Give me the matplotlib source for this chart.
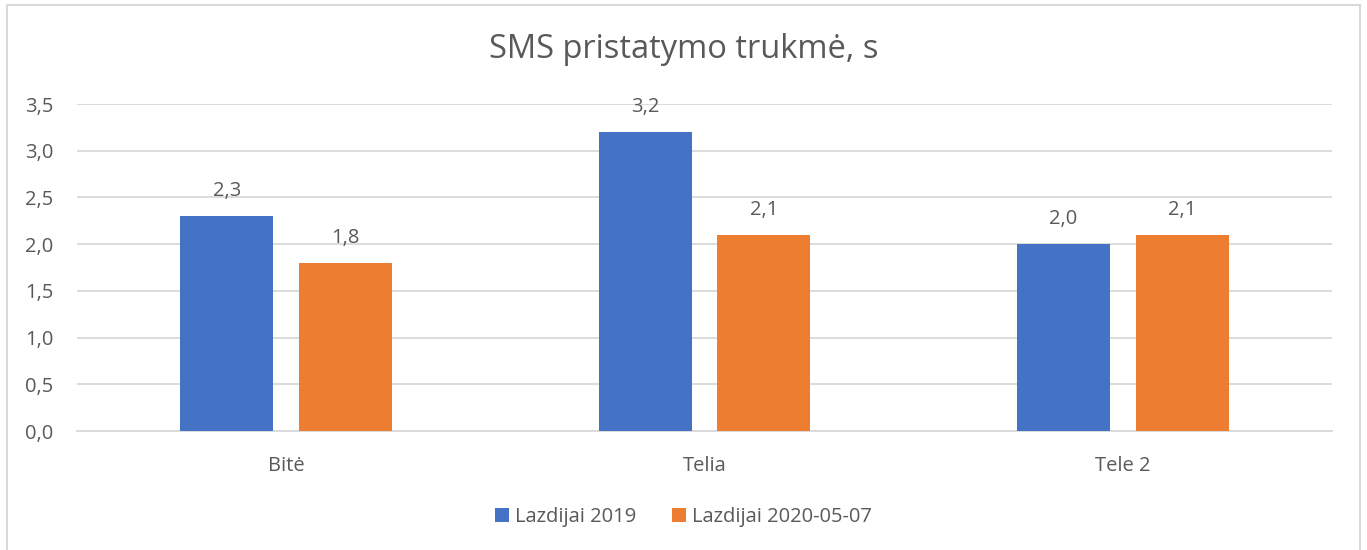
import matplotlib
matplotlib.use("Agg")
import matplotlib.pyplot as plt
from matplotlib.patches import Rectangle
import numpy as np

categories = ["Bitė", "Telia", "Tele 2"]
series_names = ["Lazdijai 2019", "Lazdijai 2020-05-07"]
values_2019 = [2.3, 3.2, 2.0]
values_2020 = [1.8, 2.1, 2.1]
yticks = [0.0, 0.5, 1.0, 1.5, 2.0, 2.5, 3.0, 3.5]
title = "SMS pristatymo trukmė, s"

colors = ["#4472C4", "#ED7D31"]
txt = "#595959"
grid = "#D9D9D9"

plt.rcParams['font.family'] = ['Open Sans', 'DejaVu Sans']

W, H = 1367, 550
fig = plt.figure(figsize=(W / 100, H / 100), dpi=100)
ax = fig.add_axes([77 / W, 1 - 431 / H, (1332 - 77) / W, (431 - 104) / H])

fs = 14.5
x = np.arange(len(categories))
bw = 0.222
off = 0.142
for vals, name, c, d in [(values_2019, series_names[0], colors[0], -off),
                         (values_2020, series_names[1], colors[1], off)]:
    bars = ax.bar(x + d, vals, bw, color=c, label=name, zorder=3)
    for b, v in zip(bars, vals):
        ax.annotate(f"{v:.1f}".replace(".", ","), (b.get_x() + b.get_width() / 2, v),
                    xytext=(0, 11), textcoords="offset points", ha="center", va="bottom",
                    fontsize=fs, color=txt)

ax.set_xlim(-0.5, len(categories) - 0.5)
ax.set_ylim(0, 3.5)
ax.set_yticks(yticks)
ax.set_yticklabels([f"{t:.1f}".replace(".", ",") for t in yticks])
ax.set_xticks(x)
ax.set_xticklabels(categories)
ax.tick_params(axis="both", length=0, labelsize=fs, colors=txt)
ax.tick_params(axis="y", pad=17)
ax.tick_params(axis="x", pad=18)
ax.grid(axis="y", color=grid, linewidth=1.3, zorder=0)
for s in ["top", "right", "left"]:
    ax.spines[s].set_visible(False)
ax.spines["bottom"].set_color(grid)
ax.spines["bottom"].set_linewidth(1.3)

fig.text(0.5, 1 - 50 / H, title, ha="center", va="center", fontsize=23.5, color=txt)

leg = fig.legend(loc="center", bbox_to_anchor=(0.5, 1 - 517 / H), ncol=2, frameon=False,
                 fontsize=fs, handlelength=0.7, handleheight=0.7, handletextpad=0.3,
                 columnspacing=1.8, labelcolor=txt)

fig.add_artist(Rectangle((7 / W, -0.1), (1360 - 7) / W, 1.1 - 5 / H, transform=fig.transFigure,
                         fill=False, edgecolor=grid, linewidth=1.5))

fig.savefig("out.png", dpi=100)
